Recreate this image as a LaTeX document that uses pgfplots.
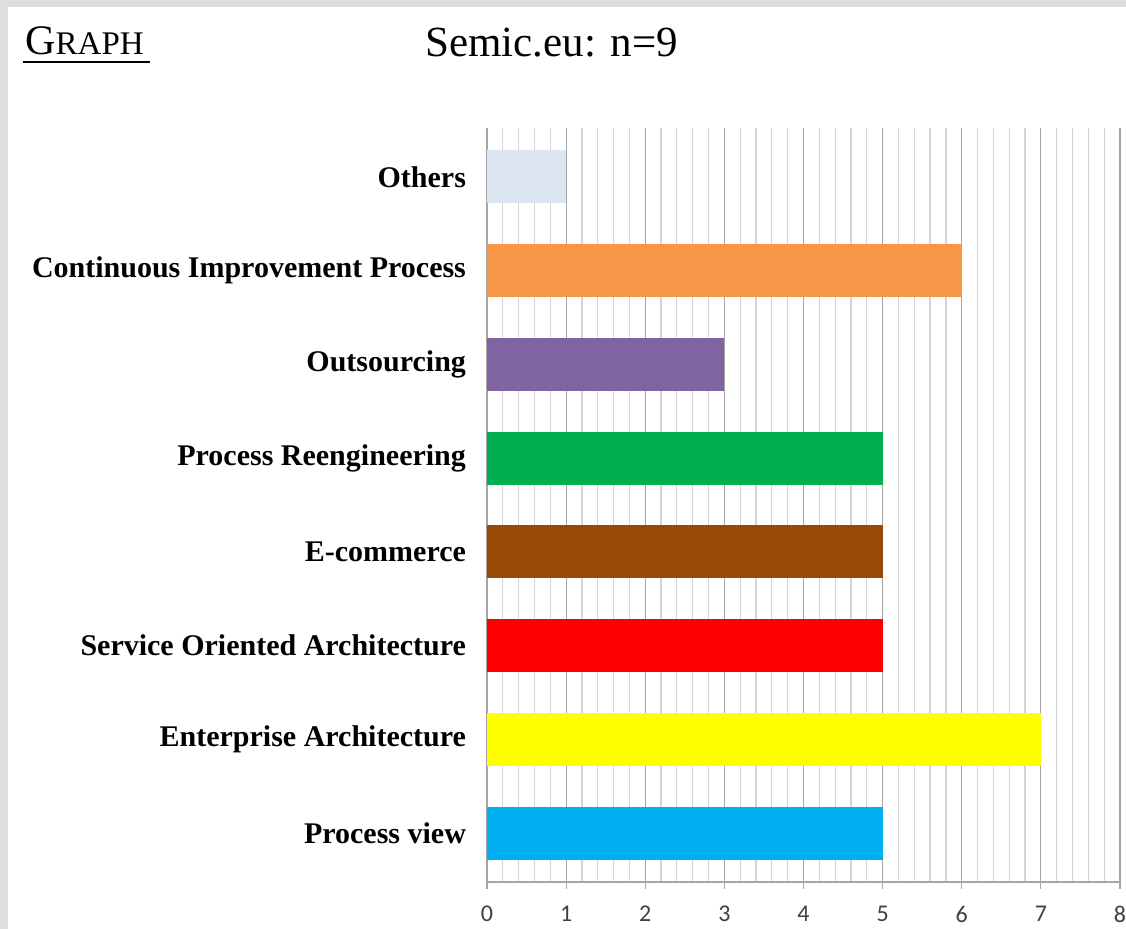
\documentclass[border=0pt]{standalone}
\usepackage{fontspec}
\setmainfont{Liberation Serif}
\newfontfamily\carlito{Carlito}
\usepackage{pgfplots}
\pgfplotsset{compat=1.18}
\definecolor{cOthers}{HTML}{DCE6F2}
\definecolor{cCIP}{HTML}{F79646}
\definecolor{cOut}{HTML}{8064A2}
\definecolor{cPR}{HTML}{00B050}
\definecolor{cEC}{HTML}{984807}
\definecolor{cSOA}{HTML}{FF0000}
\definecolor{cEA}{HTML}{FFFF00}
\definecolor{cPV}{HTML}{00B0F0}
\definecolor{majgrid}{HTML}{A6A6A6}
\definecolor{mingrid}{HTML}{D4D4D4}
\definecolor{ticklab}{HTML}{404040}
\begin{document}
\begin{tikzpicture}
\useasboundingbox (0,0) rectangle (563pt,464.5pt);
% slide background
\fill[black!13] (0,0) rectangle (563pt,464.5pt);
\fill[white] (4pt,0) rectangle (563pt,461pt);
% headings
\node[anchor=base west,inner sep=0pt] at (12.5pt,437pt)
  {\fontsize{21}{25}\selectfont G\fontsize{16.5}{19}\selectfont RAPH};
\draw[line width=1.1pt] (11.5pt,433.5pt) -- (75pt,433.5pt);
\node[anchor=base west,inner sep=0pt] at (212.5pt,436pt)
  {\fontsize{21.5}{26}\selectfont Semic.eu: n=9};
\begin{axis}[
  at={(243.5pt,23.5pt)}, anchor=south west,
  scale only axis, width=316.5pt, height=377pt,
  xbar, bar shift=0pt, bar width=26.5pt,
  xmin=0, xmax=8, ymin=-0.52, ymax=7.52,
  xtick={0,1,2,3,4,5,6,7,8},
  minor x tick num=4,
  xmajorgrids, xminorgrids,
  major grid style={majgrid, line width=0.6pt},
  minor grid style={mingrid, line width=0.6pt},
  axis x line*=bottom, axis y line*=left,
  x axis line style={majgrid, line width=0.6pt, -},
  y axis line style={draw=none},
  tick align=outside,
  major tick length=3.5pt, minor tick length=0pt,
  x tick style={majgrid, line width=0.6pt},
  y tick style={draw=none},
  /pgf/number format/assume math mode=true,
  xticklabel style={font=\carlito\fontsize{12}{14}\selectfont, text=ticklab, yshift=-5pt},
  ytick={0,1,2,3,4,5,6,7},
  yticklabels={Process view, Enterprise Architecture, Service Oriented Architecture, E-commerce, Process Reengineering, Outsourcing, Continuous Improvement Process, Others},
  yticklabel style={font=\bfseries\fontsize{15}{18}\selectfont, xshift=-3.5pt},
]
\addplot[fill=cPV, draw=none] coordinates {(5,0)};
\addplot[fill=cEA, draw=none] coordinates {(7,1)};
\addplot[fill=cSOA, draw=none] coordinates {(5,2)};
\addplot[fill=cEC, draw=none] coordinates {(5,3)};
\addplot[fill=cPR, draw=none] coordinates {(5,4)};
\addplot[fill=cOut, draw=none] coordinates {(3,5)};
\addplot[fill=cCIP, draw=none] coordinates {(6,6)};
\addplot[fill=cOthers, draw=none] coordinates {(1,7)};
\end{axis}
\end{tikzpicture}
\end{document}
